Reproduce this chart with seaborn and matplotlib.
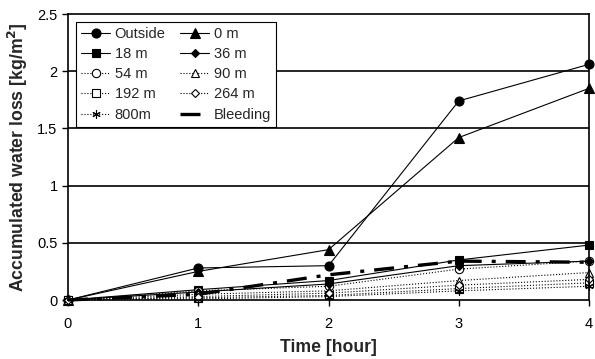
import matplotlib
matplotlib.use("Agg")
import matplotlib.pyplot as plt
import seaborn as sns
import pandas as pd

sns.set_style("white")
plt.rcParams['font.family'] = ['Liberation Sans', 'DejaVu Sans']

hours = [0, 1, 2, 3, 4]
outside = [0, 0.28, 0.30, 1.74, 2.06]
m0 = [0, 0.25, 0.44, 1.42, 1.85]
m18 = [0, 0.09, 0.17, 0.35, 0.48]
m36 = [0, 0.07, 0.14, 0.30, 0.34]
m54 = [0, 0.08, 0.12, 0.27, 0.34]
m90 = [0, 0.05, 0.08, 0.17, 0.24]
m192 = [0, 0.02, 0.04, 0.10, 0.15]
m264 = [0, 0.03, 0.06, 0.13, 0.18]
m800 = [0, 0.01, 0.03, 0.08, 0.12]
bleeding = [0, 0.05, 0.22, 0.34, 0.33]

series = [
    ("Outside", outside, dict(marker='o', ms=6.5, mfc='black', ls='-', lw=0.8)),
    ("18 m", m18, dict(marker='s', ms=6, mfc='black', ls='-', lw=0.8)),
    ("54 m", m54, dict(marker='o', ms=6, mfc='white', ls=':', lw=0.8)),
    ("192 m", m192, dict(marker='s', ms=5.5, mfc='white', ls=':', lw=0.8)),
    ("800m", m800, dict(marker=(6, 2, 0), ms=6, mfc='black', ls=':', lw=0.8)),
    ("0 m", m0, dict(marker='^', ms=6.5, mfc='black', ls='-', lw=0.8)),
    ("36 m", m36, dict(marker='D', ms=4, mfc='black', ls='-', lw=0.8)),
    ("90 m", m90, dict(marker='^', ms=5.5, mfc='white', ls=':', lw=0.8)),
    ("264 m", m264, dict(marker='D', ms=4.5, mfc='white', ls=':', lw=0.8)),
    ("Bleeding", bleeding, dict(marker=None, ls=(0, (6, 3, 1.2, 3)), lw=2.4)),
]

fig = plt.figure(figsize=(5.95, 3.59), dpi=100)
ax = fig.add_axes([68/595, 1 - 300/359, (589-68)/595, (300-14)/359])

for ax_y in [0.5, 1.0, 1.5, 2.0]:
    ax.axhline(ax_y, color='black', lw=1.2, zorder=0)

for name, vals, st in series:
    df = pd.DataFrame({"x": hours, "y": vals})
    kw = dict(color='black', linewidth=st['lw'], linestyle=st['ls'], clip_on=False)
    if st.get('marker') is not None:
        kw.update(marker=st['marker'], markersize=st['ms'], markerfacecolor=st['mfc'],
                  markeredgecolor='black', markeredgewidth=0.8)
    sns.lineplot(data=df, x="x", y="y", ax=ax, label=name, **kw)

ax.set_xlim(0, 4)
ax.set_ylim(0, 2.5)
ax.set_xticks(hours)
ax.set_yticks([0, 0.5, 1, 1.5, 2, 2.5])
ax.set_yticklabels(['0', '0.5', '1', '1.5', '2', '2.5'])
for s in ax.spines.values():
    s.set_color('black')
    s.set_linewidth(1.2)
ax.tick_params(axis='both', direction='out', length=4, width=1, colors='black',
               labelsize=10.5, bottom=True, left=True)
ax.tick_params(axis='x', pad=8)
ax.set_xlabel("Time [hour]", fontsize=12.7, fontweight='bold', labelpad=6)
ax.set_ylabel("Accumulated water loss [kg/m$^\\mathbf{2}$]", fontsize=12.7,
              fontweight='bold', labelpad=5)

h, l = ax.get_legend_handles_labels()
leg = ax.legend(h, l, ncol=2, loc='upper left', bbox_to_anchor=(8/521, 1 - 8/286),
                fontsize=10.5, frameon=True, fancybox=False, shadow=False,
                handlelength=2.0, handletextpad=0.3, columnspacing=1.0,
                labelspacing=0.42, borderpad=0.35, borderaxespad=0.0)
leg.get_frame().set_edgecolor('black')
leg.get_frame().set_linewidth(0.8)
leg.get_frame().set_alpha(1)

fig.savefig("out.png", dpi=100)
